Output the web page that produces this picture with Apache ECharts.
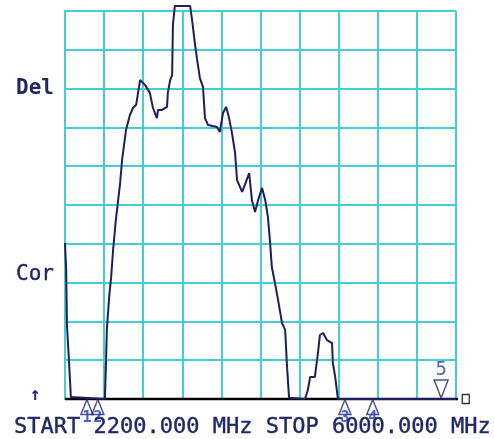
<!DOCTYPE html>
<html>
<head>
<meta charset="utf-8">
<script src="https://cdn.jsdelivr.net/npm/echarts@6/dist/echarts.min.js"></script>
<style>
html,body{margin:0;padding:0;background:#fff;}
#c{width:494px;height:439px;}
</style>
</head>
<body>
<div id="c"></div>
<script>
// Trace: x in horizontal divisions (0..10), y in vertical divisions (0..10)
const traceX = [0,0.03,0.05,0.10,0.15,0.15,1.02,1.05,1.07,1.13,1.18,1.23,1.30,1.36,1.41,1.46,1.56,1.66,1.74,1.82,1.92,2.05,2.17,2.25,2.35,2.38,2.48,2.61,2.63,2.69,2.74,2.76,2.81,3.20,3.25,3.32,3.38,3.45,3.53,3.58,3.66,3.89,3.96,4.04,4.12,4.19,4.27,4.35,4.40,4.53,4.60,4.71,4.78,4.86,4.94,5.04,5.12,5.19,5.24,5.29,5.37,5.45,5.55,5.63,5.68,5.73,5.73,6.14,6.21,6.27,6.39,6.47,6.52,6.60,6.70,6.83,6.85,6.91,6.98,10];
const traceY = [4.02,3.32,1.91,1.01,0.05,0,0,1.0,1.78,2.63,3.14,3.84,4.61,5.13,5.57,6.16,6.93,7.32,7.50,7.58,8.22,8.09,7.89,7.50,7.24,7.45,7.45,7.53,7.89,8.22,8.35,9.64,10.13,10.13,9.77,9.18,8.74,8.27,8.04,7.24,7.06,7.01,6.88,7.37,7.53,7.27,6.86,6.34,5.64,5.34,5.52,5.82,5.13,4.82,5.13,5.44,5.13,4.69,4.10,3.40,2.99,2.55,1.96,1.78,0.82,0.03,0,0,0.23,0.57,0.57,1.19,1.65,1.70,1.52,1.44,0.93,0.57,0,0];
// Markers below baseline (1-4) and marker 5 above
const lowMarkerX = [0.56, 0.84, 7.16, 7.87];
const lowMarkerNames = ['1', '2', '3', '4'];
const highMarkerX = [9.62];
const highMarkerNames = ['5'];
const bottomText = 'START 2200.000 MHz STOP 6000.000 MHz';
const leftLabels = ['Del', 'Cor'];

const trace = traceX.map((x, i) => [x, traceY[i]]);
const font = '"DejaVu Sans Mono", "Liberation Mono", monospace';
const ink = '#1f2766';
const cyan = '#44cdd2';

const chart = echarts.init(document.getElementById('c'), null, {renderer: 'canvas'});
chart.setOption({
  backgroundColor: '#ffffff',
  animation: false,
  title: [
    {text: bottomText, left: 9, top: 411, textStyle: {fontFamily: font, fontSize: 22, fontWeight: 'normal', color: ink, textBorderColor: ink, textBorderWidth: 0.4}},
    {text: leftLabels[0], left: 11, top: 73, textStyle: {fontFamily: font, fontSize: 21, fontWeight: 'bold', color: ink}},
    {text: leftLabels[1], left: 11, top: 259, textStyle: {fontFamily: font, fontSize: 21, fontWeight: 'normal', color: ink, textBorderColor: ink, textBorderWidth: 0.4}},
    {text: '↑', left: 25, top: 381, textStyle: {fontFamily: font, fontSize: 18, fontWeight: 'bold', color: ink}}
  ],
  grid: {left: 65, right: 38, top: 11, bottom: 40},
  xAxis: {
    type: 'value', min: 0, max: 10, interval: 1,
    axisLine: {show: true, onZero: false, lineStyle: {color: cyan, width: 2}},
    axisTick: {show: false}, axisLabel: {show: false},
    splitLine: {show: true, lineStyle: {color: cyan, width: 2}}
  },
  yAxis: {
    type: 'value', min: 0, max: 10, interval: 1,
    axisLine: {show: true, lineStyle: {color: cyan, width: 2}},
    axisTick: {show: false}, axisLabel: {show: false},
    splitLine: {show: true, lineStyle: {color: cyan, width: 2}}
  },
  series: [
    {
      type: 'line', data: [[0, 0], [10.1, 0]], clip: false, showSymbol: false,
      lineStyle: {color: '#000000', width: 2.5}, z: 3, silent: true
    },
    {
      type: 'line', data: trace, clip: false, showSymbol: false,
      lineStyle: {color: '#1e1e5c', width: 2}, z: 4
    },
    {
      type: 'scatter', clip: false, z: 5,
      data: lowMarkerX.map((x, i) => ({value: [x, 0], name: lowMarkerNames[i]})),
      symbol: 'triangle', symbolSize: [12, 15], symbolOffset: [0, 8],
      itemStyle: {color: 'rgba(255,255,255,0)', borderColor: ink, borderWidth: 1.5},
      label: {show: true, position: 'bottom', distance: -5, formatter: p => p.name,
        fontFamily: font, fontSize: 15, fontWeight: 'bold', color: '#1a3cc8'}
    },
    {
      type: 'scatter', clip: false, z: 5,
      data: highMarkerX.map((x, i) => ({value: [x, 0], name: highMarkerNames[i]})),
      symbol: 'triangle', symbolRotate: 180, symbolSize: [14, 18], symbolOffset: [0, -10],
      itemStyle: {color: '#ffffff', borderColor: ink, borderWidth: 1.5},
      label: {show: true, position: 'top', distance: 0, formatter: p => p.name,
        fontFamily: font, fontSize: 19, color: '#2a3c9a'}
    },
    {
      type: 'scatter', clip: false, z: 5,
      data: [[10.25, 0]], symbol: 'rect', symbolSize: [7, 9],
      itemStyle: {color: '#ffffff', borderColor: '#000000', borderWidth: 1.5}
    }
  ]
});
</script>
</body>
</html>
